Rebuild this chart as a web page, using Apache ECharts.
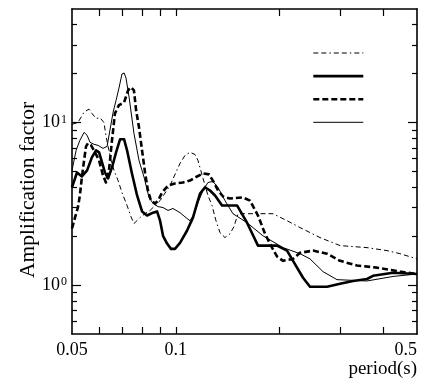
<!DOCTYPE html>
<html>
<head>
<meta charset="utf-8">
<script src="https://cdn.jsdelivr.net/npm/echarts@6/dist/echarts.min.js"></script>
<style>
  html, body { margin: 0; padding: 0; background: #fff; }
  #chart { width: 432px; height: 381px; }
</style>
</head>
<body>
<div id="chart"></div>
<script>
// Amplification spectra, period (s) vs amplification factor, four cases

const periodA = [0.0500, 0.0520, 0.0542, 0.0560, 0.0571, 0.0587, 0.0603, 0.0619, 0.0627, 0.0636, 0.0649, 0.0662, 0.0680, 0.0698, 0.0722, 0.0741, 0.0756, 0.0787, 0.0814, 0.0842, 0.0900, 0.0962, 0.1028, 0.1063, 0.1099, 0.1136, 0.1159, 0.1199, 0.1239, 0.1273, 0.1307, 0.1343, 0.1388, 0.1435, 0.1474, 0.1514, 0.1586, 0.1913, 0.2100, 0.2290, 0.2617, 0.2992, 0.3581, 0.4093, 0.4463, 0.5000];
const ampA    = [9.76, 10.0, 11.6, 12.1, 11.4, 10.6, 10.7, 10.0, 8.35, 7.14, 5.85, 5.08, 4.40, 3.71, 3.09, 2.64, 2.39, 2.60, 2.75, 2.88, 3.31, 4.10, 5.61, 6.28, 6.56, 6.37, 5.85, 4.53, 3.56, 3.09, 2.49, 2.10, 1.96, 2.07, 2.29, 2.75, 2.75, 2.75, 2.49, 2.26, 1.96, 1.75, 1.70, 1.63, 1.56, 1.45];

const periodB = [0.0500, 0.0517, 0.0534, 0.0553, 0.0571, 0.0587, 0.0599, 0.0611, 0.0623, 0.0636, 0.0653, 0.0671, 0.0689, 0.0698, 0.0708, 0.0722, 0.0746, 0.0772, 0.0798, 0.0825, 0.0859, 0.0882, 0.0900, 0.0918, 0.0943, 0.0968, 0.0994, 0.1028, 0.1077, 0.1121, 0.1152, 0.1175, 0.1215, 0.1256, 0.1299, 0.1361, 0.1504, 0.1608, 0.1730, 0.1964, 0.2100, 0.2186, 0.2337, 0.2448, 0.2743, 0.2992, 0.3262, 0.3581, 0.3728, 0.4260, 0.5000];
const ampB    = [3.99, 4.93, 4.66, 5.08, 6.11, 6.75, 6.56, 5.69, 4.93, 4.53, 5.30, 6.56, 7.89, 8.11, 7.89, 6.75, 4.86, 3.56, 2.84, 2.68, 2.79, 2.84, 2.49, 2.01, 1.80, 1.67, 1.67, 1.82, 2.16, 2.60, 3.18, 3.66, 3.99, 3.82, 3.56, 3.09, 3.09, 2.42, 1.75, 1.75, 1.63, 1.41, 1.11, 0.976, 0.976, 1.02, 1.06, 1.09, 1.14, 1.19, 1.17];

const periodC = [0.0500, 0.0510, 0.0520, 0.0527, 0.0534, 0.0542, 0.0549, 0.0556, 0.0568, 0.0583, 0.0599, 0.0615, 0.0627, 0.0640, 0.0653, 0.0666, 0.0684, 0.0708, 0.0727, 0.0741, 0.0756, 0.0767, 0.0782, 0.0798, 0.0814, 0.0830, 0.0847, 0.0870, 0.0888, 0.0912, 0.0949, 0.0994, 0.1049, 0.1099, 0.1152, 0.1199, 0.1248, 0.1290, 0.1325, 0.1370, 0.1435, 0.1565, 0.1640, 0.1730, 0.1813, 0.1900, 0.1964, 0.2045, 0.2186, 0.2290, 0.2498, 0.2743, 0.2992, 0.3350, 0.3829, 0.4463, 0.5000];
const ampC    = [2.23, 2.60, 3.00, 3.56, 4.60, 5.85, 7.14, 7.45, 7.24, 6.56, 5.85, 4.73, 4.28, 5.08, 7.78, 11.4, 12.8, 13.3, 15.8, 16.5, 15.8, 11.9, 9.35, 6.75, 4.93, 3.82, 3.31, 3.18, 3.31, 3.71, 4.10, 4.22, 4.28, 4.40, 4.66, 4.86, 4.80, 4.28, 3.82, 3.51, 3.41, 3.46, 3.31, 2.68, 2.07, 1.70, 1.50, 1.41, 1.45, 1.58, 1.63, 1.56, 1.41, 1.32, 1.28, 1.21, 1.17];

const periodD = [0.0500, 0.0514, 0.0527, 0.0542, 0.0553, 0.0564, 0.0579, 0.0595, 0.0615, 0.0632, 0.0644, 0.0658, 0.0671, 0.0684, 0.0698, 0.0708, 0.0717, 0.0732, 0.0756, 0.0782, 0.0809, 0.0836, 0.0859, 0.0888, 0.0918, 0.0949, 0.0981, 0.1028, 0.1077, 0.1099, 0.1129, 0.1159, 0.1199, 0.1239, 0.1281, 0.1325, 0.1388, 0.1464, 0.1608, 0.1789, 0.2045, 0.2290, 0.2448, 0.2670, 0.2932, 0.3581, 0.4260, 0.5000];
const ampD    = [5.08, 6.75, 7.78, 8.71, 8.35, 7.56, 7.35, 7.24, 6.94, 7.14, 8.96, 11.6, 13.7, 16.3, 19.9, 20.2, 18.8, 14.3, 8.59, 5.85, 4.60, 3.46, 3.18, 3.04, 3.00, 2.88, 2.96, 2.79, 2.57, 2.49, 2.72, 3.22, 3.82, 4.28, 4.34, 3.99, 3.31, 2.75, 2.42, 2.01, 1.70, 1.56, 1.45, 1.21, 1.08, 1.06, 1.13, 1.17];

const xLabelValues = [0.05, 0.1, 0.5];
const xTickValues  = [0.06, 0.07, 0.08, 0.09, 0.1, 0.2, 0.3, 0.4];
const yMajorValues = [1, 10];
const yMinorValues = [0.6, 0.7, 0.8, 0.9, 2, 3, 4, 5, 6, 7, 8, 9, 20, 30, 40];
const seriesNames  = ['Case 1', 'Case 2', 'Case 3', 'Case 4'];

const FONT = 'Liberation Serif, Times New Roman, serif';
const INK = '#000';

function zip(ps, as) { return ps.map((p, i) => [p, as[i]]); }

const chart = echarts.init(document.getElementById('chart'), null, { renderer: 'canvas' });

const xBase = {
  type: 'log', logBase: 10, min: 0.05, max: 0.5,
  splitLine: { show: false },
  axisLine: { show: true, onZero: false, lineStyle: { color: INK, width: 1.6 } },
  axisTick: { show: true, inside: true, length: 7, customValues: xTickValues, lineStyle: { color: INK, width: 1.2 } }
};
const yBase = {
  type: 'log', logBase: 10, min: 0.5, max: 50,
  splitLine: { show: false },
  axisLine: { show: false, onZero: false, lineStyle: { color: INK, width: 1.6 } }
};

chart.setOption({
  animation: false,
  backgroundColor: '#fff',
  grid: { left: 72, right: 15, top: 9, bottom: 47 },
  legend: {
    orient: 'vertical', left: 307, top: 41,
    itemWidth: 50, itemHeight: 14, itemGap: 10.5,
    selectedMode: false,
    formatter: () => '',
    textStyle: { fontSize: 1 },
    itemStyle: { color: 'rgba(0,0,0,0)', borderWidth: 0, opacity: 0 },
    lineStyle: { width: 'inherit', type: 'inherit', color: 'inherit' },
    data: seriesNames
  },
  xAxis: [
    Object.assign({}, xBase, {
      position: 'bottom',
      axisLabel: {
        show: true, customValues: xLabelValues, margin: 7,
        color: INK, fontFamily: FONT, fontSize: 18,
        alignMaxLabel: 'right',
        formatter: v => String(+v.toPrecision(3))
      },
      name: 'period(s)', nameLocation: 'end', nameGap: 0,
      nameTextStyle: { color: INK, fontFamily: FONT, fontSize: 19, align: 'right', verticalAlign: 'top', padding: [26, 0, 0, 0] }
    }),
    Object.assign({}, xBase, { position: 'top', axisLabel: { show: false } })
  ],
  yAxis: [
    Object.assign({}, yBase, {
      position: 'left',
      axisLine: { show: true, onZero: false, lineStyle: { color: INK, width: 1.6 } },
      axisTick: { show: true, inside: true, length: 9, customValues: yMajorValues, lineStyle: { color: INK, width: 1.2 } },
      axisLabel: {
        show: true, customValues: yMajorValues, margin: 5,
        formatter: v => '{b|10}{s|' + Math.round(Math.log10(v)) + '}',
        rich: {
          b: { color: INK, fontFamily: FONT, fontSize: 18, lineHeight: 18, verticalAlign: 'bottom' },
          s: { color: INK, fontFamily: FONT, fontSize: 12, lineHeight: 12, verticalAlign: 'top', padding: [0, 0, 0, 1] }
        }
      }
    }),
    Object.assign({}, yBase, {
      position: 'left',
      axisTick: { show: true, inside: true, length: 5, customValues: yMinorValues, lineStyle: { color: INK, width: 1.2 } },
      axisLabel: { show: false }
    }),
    Object.assign({}, yBase, {
      position: 'right',
      axisLine: { show: true, onZero: false, lineStyle: { color: INK, width: 1.6 } },
      axisTick: { show: true, inside: true, length: 9, customValues: yMajorValues, lineStyle: { color: INK, width: 1.2 } },
      axisLabel: { show: false }
    }),
    Object.assign({}, yBase, {
      position: 'right',
      axisTick: { show: true, inside: true, length: 5, customValues: yMinorValues, lineStyle: { color: INK, width: 1.2 } },
      axisLabel: { show: false }
    })
  ],
  graphic: [{
    type: 'text', x: 28, y: 190, rotation: Math.PI / 2,
    style: { text: 'Amplification factor', fill: INK, font: '21.5px ' + FONT, align: 'center', verticalAlign: 'middle' }
  }],
  series: [
    { name: seriesNames[0], data: zip(periodA, ampA), lineStyle: { width: 1, type: [5, 3, 5, 3, 1.5, 3] } },
    { name: seriesNames[1], data: zip(periodB, ampB), lineStyle: { width: 2.6, type: 'solid' } },
    { name: seriesNames[2], data: zip(periodC, ampC), lineStyle: { width: 2.6, type: [6, 3] } },
    { name: seriesNames[3], data: zip(periodD, ampD), lineStyle: { width: 1, type: 'solid' } }
  ].map(s => Object.assign({
    type: 'line', xAxisIndex: 0, yAxisIndex: 0,
    symbol: 'none', showSymbol: false, smooth: false,
    itemStyle: { color: INK },
    emphasis: { disabled: true }
  }, s, { lineStyle: Object.assign({ color: INK, cap: 'butt', join: 'round' }, s.lineStyle) }))
});
</script>
</body>
</html>
